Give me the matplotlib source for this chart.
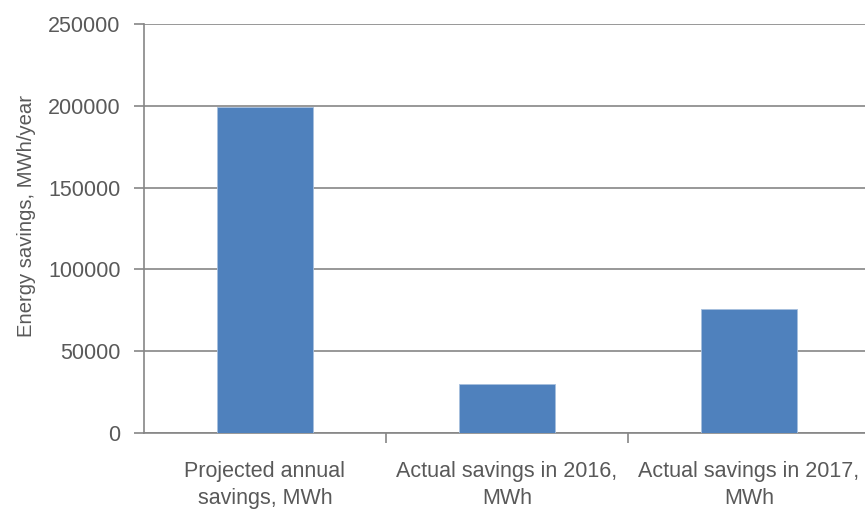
import matplotlib.pyplot as plt

# values
categories = ["Projected annual\nsavings, MWh",
              "Actual savings in 2016,\nMWh",
              "Actual savings in 2017,\nMWh"]
savings = [199000, 30000, 76000]
y_ticks = [0, 50000, 100000, 150000, 200000, 250000]

plt.rcParams['font.family'] = ['Liberation Sans', 'DejaVu Sans']
text_color = "#595959"
line_color = "#868686"

fig = plt.figure(figsize=(8.65, 5.09), dpi=100)
ax = fig.add_axes([144 / 865, 1 - 433 / 509, (865 - 144) / 865, (433 - 24) / 509])

x = range(len(savings))
ax.bar(x, savings, width=0.4, color="#4F81BD", edgecolor="#A7BFDE", linewidth=0.6, zorder=3)

ax.set_ylim(0, 250000)
ax.set_yticks(y_ticks)
ax.set_yticklabels([str(v) for v in y_ticks])
ax.set_xlim(-0.5, -0.5 + (865 - 144) / 242)

# category labels centred under bars, tick marks on the boundaries
ax.set_xticks([0.5, 1.5], minor=False)
ax.set_xticklabels([])
ax.set_xticks(list(x), minor=True)
ax.set_xticklabels(categories, minor=True, linespacing=1.4)
ax.tick_params(axis='x', which='minor', length=0, pad=20, labelsize=15.5, labelcolor=text_color)
ax.tick_params(axis='x', which='major', length=7, width=1.2, color=line_color)
ax.tick_params(axis='y', length=7, width=1.2, color=line_color, labelsize=15.5,
               labelcolor=text_color, pad=10)

ax.yaxis.grid(True, color=line_color, linewidth=1.2, zorder=0)
for side in ["top", "right"]:
    ax.spines[side].set_visible(False)
for side in ["left", "bottom"]:
    ax.spines[side].set_color(line_color)
    ax.spines[side].set_linewidth(1.2)

ax.set_ylabel("Energy savings, MWh/year", fontsize=14.6, color=text_color)
ax.yaxis.set_label_coords(-0.15, 0.53)

fig.savefig("out.png", dpi=100)
